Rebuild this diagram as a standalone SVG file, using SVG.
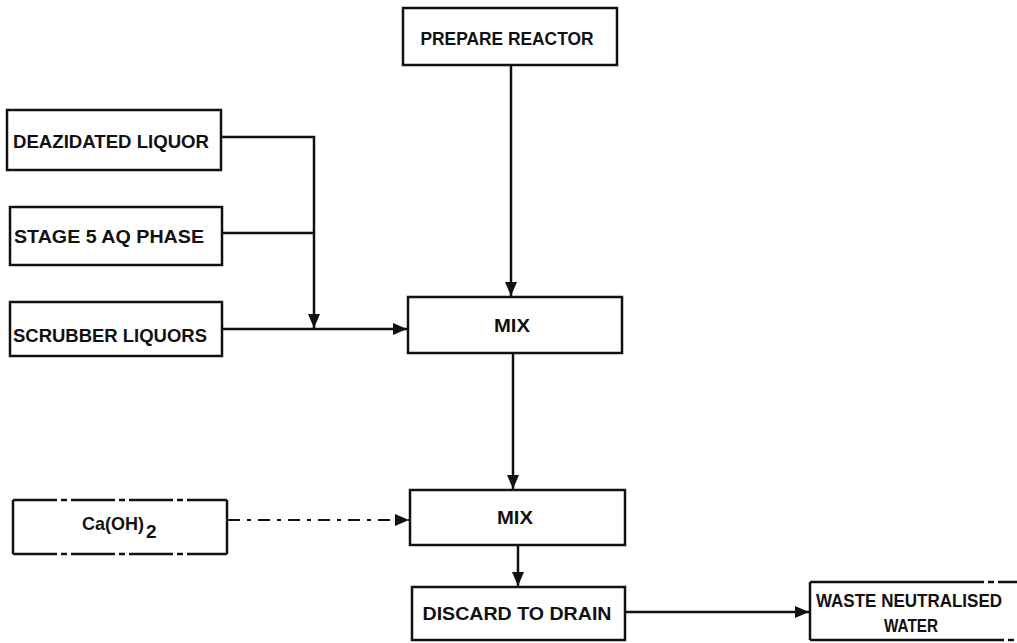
<svg xmlns="http://www.w3.org/2000/svg" width="1017" height="643" viewBox="0 0 1017 643">
  <style>
    .box { fill: #ffffff; stroke: #111111; stroke-width: 2.5; }
    .edge { fill: none; stroke: #111111; stroke-width: 2.5; }
    .broken { fill: none; stroke: #111111; stroke-width: 2.5; stroke-dasharray: 44 4 6 4; }
    .wire { fill: none; stroke: #111111; stroke-width: 2.5; }
    .dashed { stroke-dasharray: 12 7 4 7; stroke-width: 2; }
    .lbl { font-family: "Liberation Sans", Arial, sans-serif; font-weight: bold; font-size: 19px; fill: #111111; text-anchor: middle; }
  </style>
  <defs>
    <marker id="head" viewBox="0 0 14 12" refX="14" refY="6" markerWidth="14" markerHeight="12" markerUnits="userSpaceOnUse" orient="auto">
      <path d="M0,0 L14,6 L0,12 Z" fill="#111111"/>
    </marker>
  </defs>

  <rect width="1017" height="643" fill="#ffffff"/>

  <!-- connectors -->
  <g id="connectors">
    <path class="wire" d="M511,65 V296" marker-end="url(#head)"/>
    <path class="wire" d="M221,137 H314 V328" marker-end="url(#head)"/>
    <path class="wire" d="M222,233 H314"/>
    <path class="wire" d="M222,329 H407" marker-end="url(#head)"/>
    <path class="wire" d="M513,353 V489" marker-end="url(#head)"/>
    <path class="wire dashed" d="M228,520 H409" marker-end="url(#head)"/>
    <path class="wire" d="M518,545 V586" marker-end="url(#head)"/>
    <path class="wire" d="M625,612 H809" marker-end="url(#head)"/>
  </g>

  <g id="prepare-reactor">
    <rect class="box" x="403" y="8" width="214" height="57"/>
    <text class="lbl" x="507" y="45" textLength="173" lengthAdjust="spacingAndGlyphs">PREPARE REACTOR</text>
  </g>

  <g id="deazidated-liquor">
    <rect class="box" x="7" y="110" width="214" height="60"/>
    <text class="lbl" x="111" y="148" textLength="196" lengthAdjust="spacingAndGlyphs">DEAZIDATED LIQUOR</text>
  </g>

  <g id="stage5-aq-phase">
    <rect class="box" x="10" y="207" width="212" height="58"/>
    <text class="lbl" x="109" y="243" textLength="190" lengthAdjust="spacingAndGlyphs">STAGE 5 AQ PHASE</text>
  </g>

  <g id="scrubber-liquors">
    <rect class="box" x="10" y="302" width="212" height="54"/>
    <text class="lbl" x="110" y="342" textLength="194" lengthAdjust="spacingAndGlyphs">SCRUBBER LIQUORS</text>
  </g>

  <g id="mix-1">
    <rect class="box" x="408" y="297" width="214" height="56"/>
    <text class="lbl" x="512" y="332" textLength="36" lengthAdjust="spacingAndGlyphs">MIX</text>
  </g>

  <g id="caoh2">
    <path class="edge" d="M13,500 V554"/>
    <path class="edge" d="M227,500 V554"/>
    <path class="broken" d="M13,500 H227"/>
    <path class="broken" d="M13,554 H227"/>
    <text class="lbl" x="82" y="530" font-size="17" textLength="62" lengthAdjust="spacingAndGlyphs" style="text-anchor:start">Ca(OH)</text>
    <text class="lbl" x="146" y="538" font-size="14" style="text-anchor:start">2</text>
  </g>

  <g id="mix-2">
    <rect class="box" x="410" y="490" width="215" height="55"/>
    <text class="lbl" x="515" y="524" textLength="36" lengthAdjust="spacingAndGlyphs">MIX</text>
  </g>

  <g id="discard-to-drain">
    <rect class="box" x="412" y="587" width="213" height="53"/>
    <text class="lbl" x="517" y="620" textLength="189" lengthAdjust="spacingAndGlyphs">DISCARD TO DRAIN</text>
  </g>

  <!-- box runs off the right-hand border of the sheet -->
  <g id="waste-neutralised-water">
    <path class="edge" d="M810,582 V640"/>
    <path class="edge" d="M810,582 H940"/>
    <path class="broken" d="M940,582 H1017"/>
    <path class="edge" d="M810,640 H960"/>
    <path class="broken" d="M960,640 H1017"/>
    <text class="lbl" x="909" y="607" textLength="186" lengthAdjust="spacingAndGlyphs">WASTE NEUTRALISED</text>
    <text class="lbl" x="911" y="632" textLength="54" lengthAdjust="spacingAndGlyphs">WATER</text>
  </g>
</svg>
